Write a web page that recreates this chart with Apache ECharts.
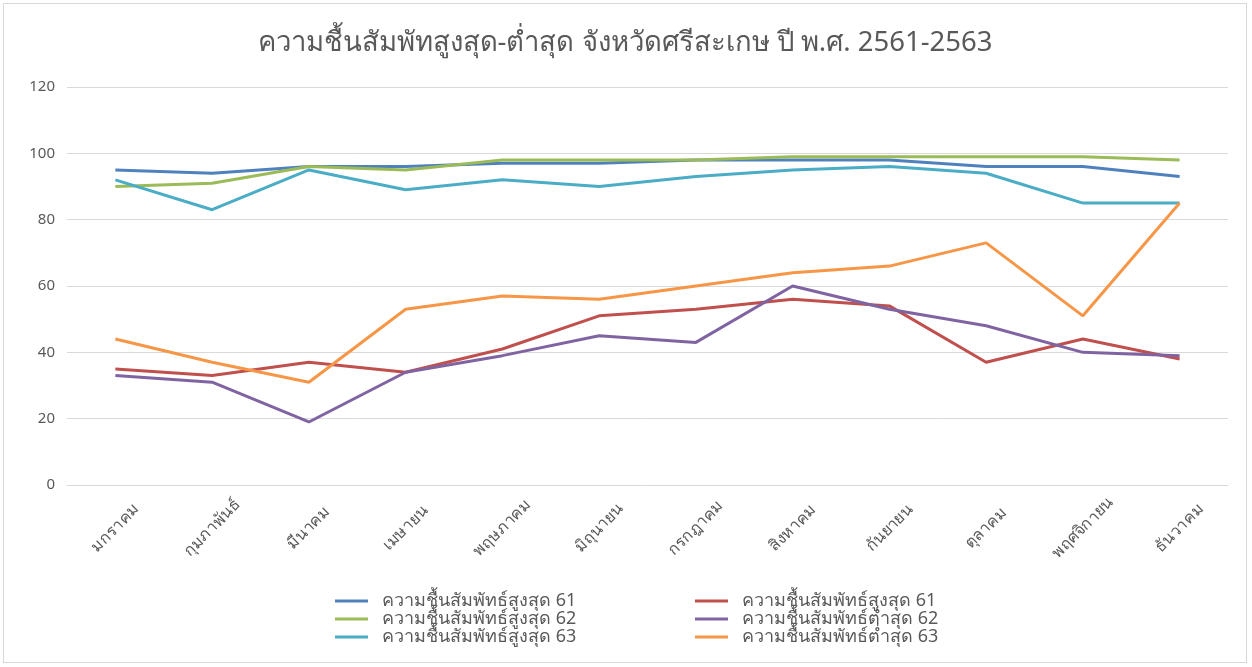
<!DOCTYPE html>
<html>
<head>
<meta charset="utf-8">
<script src="https://cdn.jsdelivr.net/npm/echarts@6/dist/echarts.min.js"></script>
<style>
  html, body { margin: 0; padding: 0; background: #fff; }
  #chart { position: absolute; left: 3px; top: 3px; width: 1244px; height: 660px; border: 1px solid #d9d9d9; box-sizing: border-box; }
</style>
</head>
<body>
<div id="chart"></div>
<script>
const months = ['มกราคม', 'กุมภาพันธ์', 'มีนาคม', 'เมษายน', 'พฤษภาคม', 'มิถุนายน', 'กรกฎาคม', 'สิงหาคม', 'กันยายน', 'ตุลาคม', 'พฤศจิกายน', 'ธันวาคม'];

const max61 = [95, 94, 96, 96, 97, 97, 98, 98, 98, 96, 96, 93];
const min61 = [35, 33, 37, 34, 41, 51, 53, 56, 54, 37, 44, 38];
const max62 = [90, 91, 96, 95, 98, 98, 98, 99, 99, 99, 99, 98];
const min62 = [33, 31, 19, 34, 39, 45, 43, 60, 53, 48, 40, 39];
const max63 = [92, 83, 95, 89, 92, 90, 93, 95, 96, 94, 85, 85];
const min63 = [44, 37, 31, 53, 57, 56, 60, 64, 66, 73, 51, 85];

// the original legend labels the red line "สูงสุด 61" too; trailing space keeps the names distinct
const names = [
  'ความชื้นสัมพัทธ์สูงสุด 61',
  'ความชื้นสัมพัทธ์สูงสุด 61 ',
  'ความชื้นสัมพัทธ์สูงสุด 62',
  'ความชื้นสัมพัทธ์ต่ำสุด 62',
  'ความชื้นสัมพัทธ์สูงสุด 63',
  'ความชื้นสัมพัทธ์ต่ำสุด 63'
];
const seriesValues = [max61, min61, max62, min62, max63, min63];
const colors = ['#4F81BD', '#C0504D', '#9BBB59', '#8064A2', '#4BACC6', '#F79646'];

const font = 'Tahoma, "Noto Sans", "DejaVu Sans", sans-serif';
const chart = echarts.init(document.getElementById('chart'));

const legendBase = {
  orient: 'vertical',
  top: 583,
  height: 70,
  icon: 'rect',
  itemWidth: 33,
  itemHeight: 3,
  itemGap: 0,
  textStyle: { color: '#595959', fontSize: 18, lineHeight: 17, padding: [0, 0, 0, 9], fontFamily: font }
};

chart.setOption({
  animation: false,
  color: colors,
  title: {
    text: 'ความชื้นสัมพัทสูงสุด-ต่ำสุด จังหวัดศรีสะเกษ ปี พ.ศ. 2561-2563',
    left: 'center',
    top: 20,
    textStyle: { color: '#595959', fontSize: 27.5, fontWeight: 'normal', fontFamily: font }
  },
  legend: [
    Object.assign({}, legendBase, { left: 326, data: [names[0], names[2], names[4]] }),
    Object.assign({}, legendBase, { left: 686, data: [names[1], names[3], names[5]] })
  ],
  grid: { left: 63, right: 18, top: 83, bottom: 177 },
  xAxis: {
    type: 'category',
    data: months,
    axisLine: { lineStyle: { color: '#d9d9d9' } },
    axisTick: { show: false },
    axisLabel: {
      color: '#595959', fontSize: 16, rotate: 45, interval: 0, margin: 43,
      align: 'center', verticalAlign: 'middle', fontFamily: font
    }
  },
  yAxis: {
    type: 'value',
    min: 0,
    max: 120,
    interval: 20,
    axisLine: { show: false },
    axisTick: { show: false },
    axisLabel: { color: '#595959', fontSize: 15, margin: 12, fontFamily: font },
    splitLine: { lineStyle: { color: '#d9d9d9' } }
  },
  series: names.map((name, i) => ({
    name: name,
    type: 'line',
    data: seriesValues[i],
    symbol: 'none',
    lineStyle: { width: 3 }
  }))
});
</script>
</body>
</html>
